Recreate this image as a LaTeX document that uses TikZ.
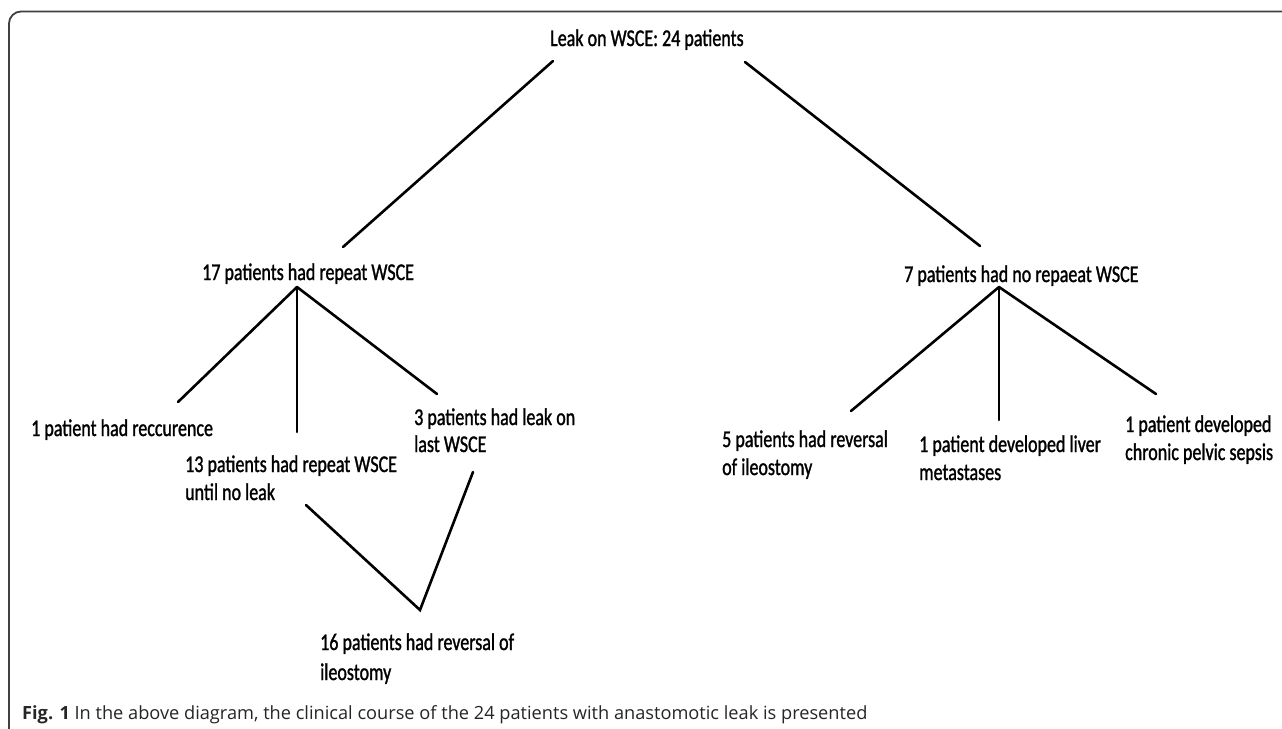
\documentclass[tikz,border=0pt]{standalone}
\usepackage{fontspec}
\newfontfamily\diagfont[FakeStretch=0.75,FakeBold=1.2]{Carlito}
\newfontfamily\capfont{Open Sans}
\tikzset{
  lbl/.style={anchor=base west, inner sep=0pt, font=\diagfont\fontsize{24}{28.5}\selectfont},
  conn/.style={line width=2.6pt, line cap=round, black},
  frame/.style={line width=1.8pt, draw=black!75, rounded corners=12pt}
}
\begin{document}
\begin{tikzpicture}[x=1pt, y=-1pt]
\useasboundingbox (0,0) rectangle (1282,728);
\fill[white] (0,0) rectangle (1282,728);
\clip (0,0) rectangle (1282,728);
\draw[frame] (9,11.5) rectangle (1320,780);

% text nodes
\node[lbl] (root) at (550,46) {Leak on WSCE: 24 patients};
\node[lbl] (n17) at (202,280) {17 patients had repeat WSCE};
\node[lbl] (n7) at (904,282) {7 patients had no repaeat WSCE};
\node[lbl] (rec) at (31,436) {1 patient had reccurence};
\node[lbl] (leakA) at (414,425) {3 patients had leak on};
\node[lbl] (leakB) at (414,452) {last WSCE};
\node[lbl] (r13A) at (185,472) {13 patients had repeat WSCE};
\node[lbl] (r13B) at (185,500) {until no leak};
\node[lbl] (r16A) at (320,650) {16 patients had reversal of};
\node[lbl] (r16B) at (320,680) {ileostomy};
\node[lbl] (r5A) at (722,447) {5 patients had reversal};
\node[lbl] (r5B) at (722,475) {of ileostomy};
\node[lbl] (livA) at (919,452) {1 patient developed liver};
\node[lbl] (livB) at (919,480) {metastases};
\node[lbl] (chrA) at (1125,432) {1 patient developed};
\node[lbl] (chrB) at (1125,460) {chronic pelvic sepsis};
\node[anchor=base west, inner sep=0pt, font=\capfont\fontsize{18.2}{20}\selectfont, text=black!85] (cap) at (22,719)
  {\textbf{Fig. 1} In the above diagram, the clinical course of the 24 patients with anastomotic leak is presented};

% connector end points
\coordinate (rootL) at (553,61);
\coordinate (rootR) at (745,62);
\coordinate (n17top) at (343,247);
\coordinate (n7top) at (980,246);
\coordinate (apL) at (297,287);
\coordinate (recT) at (178,402);
\coordinate (r13T) at (297,432);
\coordinate (leakT) at (437,394);
\coordinate (vS) at (306,505);
\coordinate (vA) at (420,610);
\coordinate (vE) at (473,472);
\coordinate (apR) at (999,287);
\coordinate (r5T) at (851,411);
\coordinate (livT) at (999,420);
\coordinate (chrT) at (1156,394);

\draw[conn] (rootL) -- (n17top);
\draw[conn] (rootR) -- (n7top);
\draw[conn] (apL) -- (recT);
\draw[conn] (apL) -- (r13T);
\draw[conn] (apL) -- (leakT);
\draw[conn] (vS) -- (vA) -- (vE);
\draw[conn] (apR) -- (r5T);
\draw[conn] (apR) -- (livT);
\draw[conn] (apR) -- (chrT);
\end{tikzpicture}
\end{document}
